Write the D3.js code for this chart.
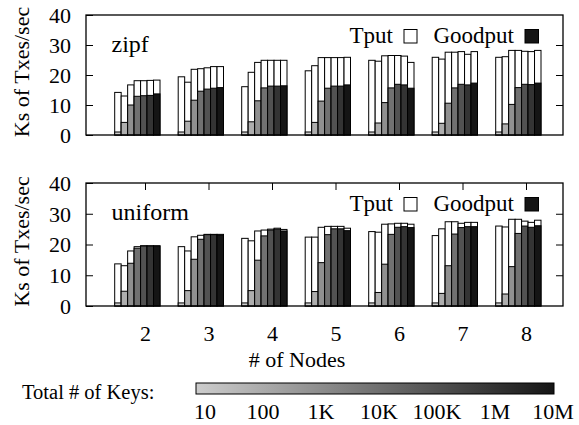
<!DOCTYPE html>
<html>
<head>
<meta charset="utf-8">
<script src="https://cdn.jsdelivr.net/npm/d3@7"></script>
<style>
  html, body { margin: 0; padding: 0; background: #fff; }
  svg text { font-family: "Liberation Serif", "Times New Roman", Tinos, "DejaVu Serif", serif !important; fill: #000; }
</style>
</head>
<body>
<svg id="chart" width="579" height="425"></svg>
<script>
// ---- data ----
const nodes = [2, 3, 4, 5, 6, 7, 8];
const keyLabels = ["10", "100", "1K", "10K", "100K", "1M", "10M"];
const yTicks = [0, 10, 20, 30, 40];

// rows = # of nodes, columns = total # of keys
const zipfTput = [
  [14.2, 13.0, 16.7, 18.1, 18.1, 18.2, 18.3],
  [19.4, 17.6, 21.9, 22.1, 22.4, 22.8, 22.8],
  [16.1, 20.9, 24.2, 24.9, 24.9, 24.9, 24.9],
  [21.4, 23.1, 25.8, 25.8, 25.8, 25.8, 25.9],
  [24.9, 24.6, 26.4, 26.5, 26.5, 26.3, 24.2],
  [25.9, 25.3, 27.6, 27.6, 27.8, 26.9, 27.8],
  [25.9, 26.1, 28.2, 28.2, 27.9, 27.8, 28.2]
];
const zipfGood = [
  [1.0, 4.2, 10.0, 12.9, 13.1, 13.2, 13.7],
  [1.0, 4.6, 11.6, 14.6, 15.3, 15.6, 15.8],
  [1.0, 4.4, 11.4, 15.7, 16.3, 16.3, 16.4],
  [1.0, 4.2, 11.3, 15.6, 16.3, 16.3, 16.7],
  [1.0, 4.0, 10.8, 15.7, 16.9, 16.7, 15.6],
  [1.0, 3.9, 10.6, 15.7, 16.9, 16.7, 17.3],
  [1.0, 3.7, 10.2, 15.8, 16.9, 16.8, 17.3]
];
const uniformTput = [
  [13.7, 13.1, 17.9, 19.3, 19.6, 19.6, 19.6],
  [19.3, 17.9, 22.5, 23.0, 23.3, 23.3, 23.3],
  [22.0, 21.2, 24.4, 24.7, 25.0, 25.3, 24.9],
  [22.4, 22.4, 25.6, 25.9, 25.9, 25.9, 25.3],
  [24.2, 24.0, 26.6, 26.7, 26.9, 26.9, 26.6],
  [22.9, 25.1, 27.4, 27.4, 26.9, 27.2, 27.2],
  [26.0, 25.7, 28.2, 28.2, 27.6, 27.2, 27.9]
];
const uniformGood = [
  [1.0, 4.8, 13.9, 18.8, 19.5, 19.5, 19.5],
  [1.0, 5.0, 15.2, 21.7, 23.2, 23.2, 23.1],
  [1.0, 5.0, 14.9, 22.8, 24.7, 25.0, 24.4],
  [1.0, 4.7, 14.1, 23.2, 25.1, 25.1, 24.5],
  [1.0, 4.4, 13.6, 23.3, 25.6, 25.8, 25.5],
  [1.0, 4.1, 13.1, 23.4, 25.5, 25.8, 25.8],
  [1.0, 3.9, 12.8, 23.6, 26.0, 25.6, 26.1]
];

// ---- layout ----
const svg = d3.select("#chart");
const FONT = '"Liberation Serif", "Times New Roman", Tinos, "DejaVu Serif", serif';
const plotLeft = 86, plotRight = 563;
const FS = 22;

const x = d3.scaleLinear().domain([2, 8]).range([145, 526]);
const xInner = d3.scaleBand().domain(keyLabels).range([-30.3, 15]).padding(0);
const colorScale = d3.scaleLinear().domain([0, keyLabels.length - 1])
  .range(["#cdcdcd", "#151515"]).interpolate(d3.interpolateRgb);

const panels = [
  { name: "zipf", tput: zipfTput, good: zipfGood, top: 15, bottom: 135, topTicks: false },
  { name: "uniform", tput: uniformTput, good: uniformGood, top: 183, bottom: 306, topTicks: true }
];

function txt(sel) { return sel.attr("font-family", FONT).style("font-family", FONT); }

panels.forEach(p => {
  const y = d3.scaleLinear().domain([0, 40]).range([p.bottom, p.top]);
  const g = svg.append("g");

  // bars
  nodes.forEach((n, i) => {
    keyLabels.forEach((k, j) => {
      const bx = x(n) + xInner(k);
      const bw = xInner.bandwidth();
      g.append("rect")
        .attr("x", bx).attr("y", y(p.tput[i][j]))
        .attr("width", bw).attr("height", y(0) - y(p.tput[i][j]))
        .attr("fill", "#fff").attr("stroke", "#000").attr("stroke-width", 1);
      g.append("rect")
        .attr("x", bx).attr("y", y(p.good[i][j]))
        .attr("width", bw).attr("height", y(0) - y(p.good[i][j]))
        .attr("fill", colorScale(j)).attr("stroke", "#000").attr("stroke-width", 1);
    });
  });

  // frame
  g.append("rect").attr("x", plotLeft).attr("y", p.top)
    .attr("width", plotRight - plotLeft).attr("height", p.bottom - p.top)
    .attr("fill", "none").attr("stroke", "#000").attr("stroke-width", 1.3);

  // y axis ticks (left, inward) + labels
  const yAxisL = d3.axisLeft(y).tickValues(yTicks).tickSize(-7).tickPadding(15).tickFormat(d3.format("d"));
  const gl = g.append("g").attr("transform", `translate(${plotLeft},0)`).call(yAxisL);
  gl.select(".domain").remove();
  gl.selectAll(".tick line").attr("stroke", "#000").attr("stroke-width", 1);
  txt(gl.selectAll(".tick text")).attr("font-size", FS).attr("dy", "0.33em");

  const yAxisR = d3.axisRight(y).tickValues(yTicks.slice(1, 4)).tickSize(-7).tickFormat("");
  const gr = g.append("g").attr("transform", `translate(${plotRight},0)`).call(yAxisR);
  gr.select(".domain").remove();
  gr.selectAll(".tick line").attr("stroke", "#000");

  if (p.topTicks) {
    const xTop = d3.axisTop(x).tickValues(nodes).tickSize(-7).tickFormat("");
    const gt = g.append("g").attr("transform", `translate(0,${p.top})`).call(xTop);
    gt.select(".domain").remove();
    gt.selectAll(".tick line").attr("stroke", "#000");
    const xBot = d3.axisBottom(x).tickValues(nodes).tickSize(0).tickPadding(19).tickFormat(d3.format("d"));
    const gb = g.append("g").attr("transform", `translate(0,${p.bottom})`).call(xBot);
    gb.select(".domain").remove();
    txt(gb.selectAll(".tick text")).attr("font-size", FS);
  }

  // y axis title
  txt(g.append("text"))
    .attr("transform", `translate(29,${(p.top + p.bottom) / 2 - 3}) rotate(-90)`)
    .attr("text-anchor", "middle").attr("font-size", FS)
    .text("Ks of Txes/sec");

  // panel name
  txt(g.append("text")).attr("x", 111.5).attr("y", p.top + 36.5)
    .attr("font-size", FS + 2).text(p.name);

  // legend
  const ly = p.top + 14.5;
  txt(g.append("text")).attr("x", 393).attr("y", ly + 13.5).attr("text-anchor", "end")
    .attr("font-size", FS + 1).text("Tput");
  g.append("rect").attr("x", 404).attr("y", ly).attr("width", 13).attr("height", 13.5)
    .attr("fill", "#fff").attr("stroke", "#000").attr("stroke-width", 1);
  txt(g.append("text")).attr("x", 514).attr("y", ly + 13.5).attr("text-anchor", "end")
    .attr("font-size", FS + 1).text("Goodput");
  g.append("rect").attr("x", 525).attr("y", ly).attr("width", 13.5).attr("height", 13.5)
    .attr("fill", colorScale(keyLabels.length - 1)).attr("stroke", "#000").attr("stroke-width", 1);
});

// x axis title
txt(svg.append("text")).attr("x", 297).attr("y", 367).attr("text-anchor", "middle")
  .attr("font-size", FS).text("# of Nodes");

// key-count gradient legend
const defs = svg.append("defs");
const grad = defs.append("linearGradient").attr("id", "keygrad")
  .attr("x1", "0%").attr("x2", "100%").attr("y1", "0%").attr("y2", "0%");
grad.append("stop").attr("offset", "0%").attr("stop-color", colorScale(0));
grad.append("stop").attr("offset", "100%").attr("stop-color", colorScale(keyLabels.length - 1));

txt(svg.append("text")).attr("x", 22).attr("y", 399).attr("font-size", 20.5).text("Total # of Keys:");
svg.append("rect").attr("x", 196).attr("y", 383).attr("width", 358).attr("height", 11)
  .attr("fill", "url(#keygrad)").attr("stroke", "#000").attr("stroke-width", 1);

const keyX = d3.scalePoint().domain(keyLabels).range([205, 553]);
txt(svg.selectAll("text.key").data(keyLabels).enter().append("text"))
  .attr("class", "key")
  .attr("x", d => keyX(d)).attr("y", 419).attr("text-anchor", "middle")
  .attr("font-size", FS).text(d => d);
</script>
</body>
</html>
